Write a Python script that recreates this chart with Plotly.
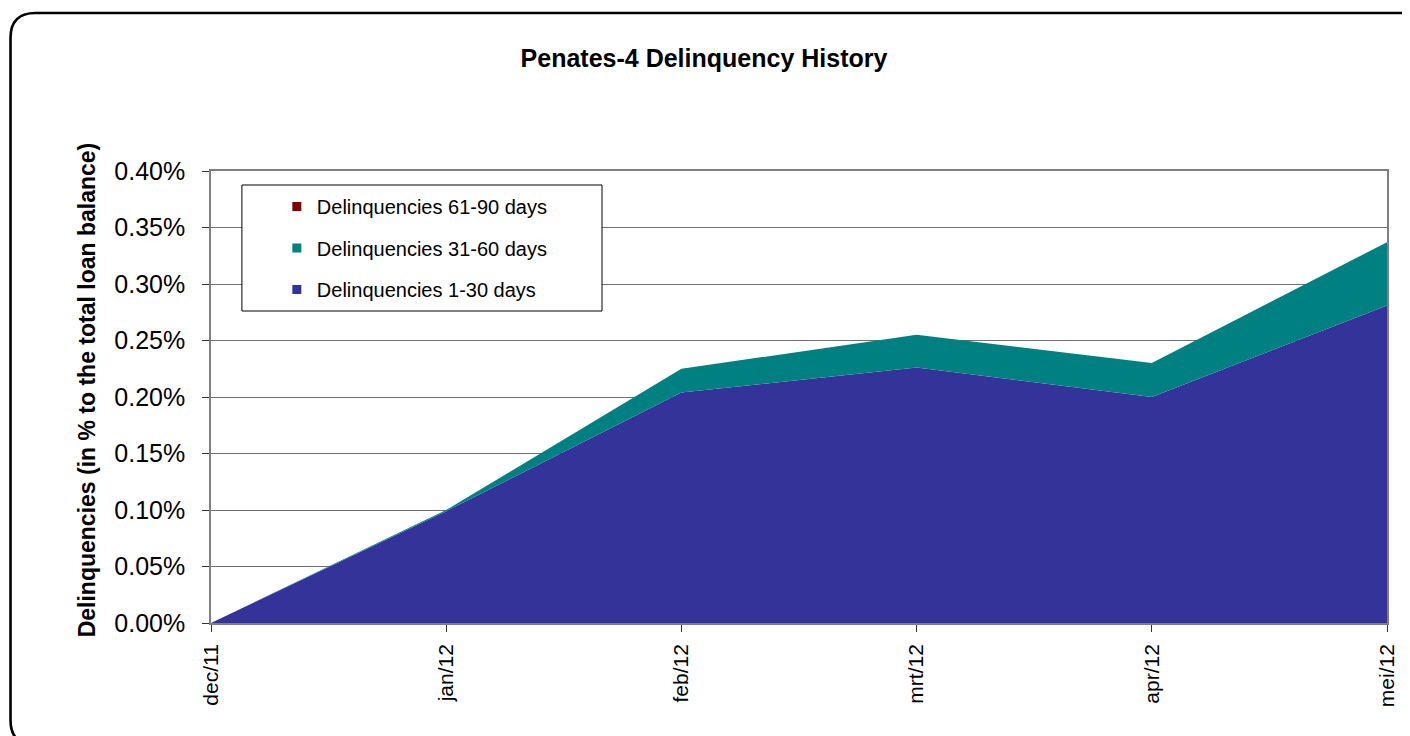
import plotly.graph_objects as go

# ---- data ----
months = ["dec/11", "jan/12", "feb/12", "mrt/12", "apr/12", "mei/12"]
d_1_30 = [0.000, 0.099, 0.204, 0.226, 0.200, 0.281]
d_31_60 = [0.000, 0.001, 0.021, 0.029, 0.030, 0.056]
d_61_90 = [0.000, 0.000, 0.000, 0.000, 0.000, 0.000]
series_names = ["Delinquencies 1-30 days", "Delinquencies 31-60 days", "Delinquencies 61-90 days"]
series_colors = ["#333399", "#008080", "#800000"]
y_ticks = [0.00, 0.05, 0.10, 0.15, 0.20, 0.25, 0.30, 0.35, 0.40]

# page has an 8px body margin; work in screen coordinates and convert
OFF = 8
W, H = 1410 - OFF, 736 - OFF
PL, PR, PT, PB = 211, 1390, 171, 623  # plot area in screen px
L, R, T, B = PL - OFF, 1410 - PR, PT - OFF, 736 - PB
PW, PH = PR - PL, PB - PT


def px(X):
    return (X - PL) / PW


def py(Y):
    return (PB - Y) / PH


FONT = "Arial, Liberation Sans, sans-serif"

fig = go.Figure()
for name, vals, col in zip(series_names, [d_1_30, d_31_60, d_61_90], series_colors):
    fig.add_trace(go.Scatter(
        x=months, y=vals, name=name, stackgroup="one", mode="none",
        fillcolor=col, line=dict(width=0), showlegend=False, hoverinfo="x+y+name",
    ))

# legend entries (square markers), top-to-bottom order as in reference
for i, (name, col) in enumerate(zip(series_names[::-1], series_colors[::-1])):
    fig.add_trace(go.Scatter(
        x=[None], y=[None], name=name, mode="markers",
        marker=dict(symbol="square", size=9, color=col),
        legendgroup=f"g{i}", showlegend=True,
    ))

# outer rounded border
xl, yt, xr, yb, r = 10, 13, 1425, 745, 25
path = (f"M {px(xl)},{py(yb - r)} L {px(xl)},{py(yt + r)} "
        f"Q {px(xl)},{py(yt)} {px(xl + r)},{py(yt)} L {px(xr)},{py(yt)}")
path2 = (f"M {px(xl)},{py(yb - r)} Q {px(xl)},{py(yb)} {px(xl + r)},{py(yb)}")
for p in (path, path2):
    fig.add_shape(type="path", xref="paper", yref="paper", path=p,
                  line=dict(color="black", width=2.6), layer="above")

# legend box
fig.add_shape(type="rect", xref="paper", yref="paper",
              x0=px(242), x1=px(603), y0=py(311), y1=py(185),
              line=dict(color="black", width=1), fillcolor="white", layer="above")

fig.add_annotation(
    text="<b>Delinquencies (in % to the total loan balance)</b>",
    xref="paper", yref="paper", x=px(87), y=py(390), textangle=-90,
    showarrow=False, font=dict(family=FONT, size=23, color="black"),
    xanchor="center", yanchor="middle",
)

fig.update_layout(
    width=W, height=H,
    margin=dict(l=L, r=R, t=T, b=B),
    paper_bgcolor="white", plot_bgcolor="white",
    font=dict(family=FONT, color="black"),
    title=dict(text="<b>Penates-4 Delinquency History</b>", x=(704 - OFF) / W, xref="container",
               y=1 - (58 - OFF) / H, yanchor="middle", xanchor="center",
               font=dict(family=FONT, size=25, color="black")),
    showlegend=True,
    legend=dict(x=px(277), y=py(187), xanchor="left", yanchor="top",
                bgcolor="rgba(0,0,0,0)", borderwidth=0,
                font=dict(family=FONT, size=20, color="black"),
                traceorder="grouped", tracegroupgap=12.5, itemwidth=30),
    xaxis=dict(type="category", range=[0, len(months) - 1], showgrid=False,
               ticks="outside", ticklen=7, tickcolor="#333", tickangle=-90,
               tickfont=dict(family=FONT, size=21, color="black"),
               ticklabelstandoff=4,
               showline=True, linecolor="#7f7f7f", linewidth=1.5, mirror=True,
               zeroline=False),
    yaxis=dict(range=[0, 0.40], tickvals=y_ticks,
               ticktext=[f"{v:.2f}%" for v in y_ticks],
               showgrid=True, gridcolor="#6f6f6f", gridwidth=1,
               ticks="outside", ticklen=7, tickcolor="#333",
               tickfont=dict(family=FONT, size=25, color="black"),
               ticklabelstandoff=12,
               showline=True, linecolor="#7f7f7f", linewidth=1.5, mirror=True,
               zeroline=False),
)

fig.write_html("out.html")
